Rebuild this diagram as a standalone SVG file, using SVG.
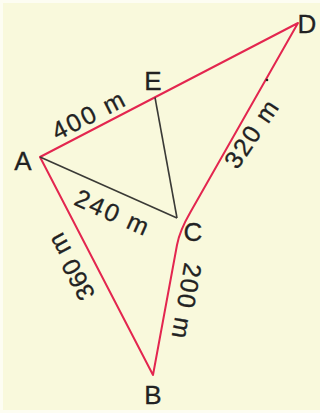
<svg xmlns="http://www.w3.org/2000/svg" width="320" height="413" viewBox="0 0 320 413">
  <style>
    .red{fill:none;stroke:#e3264f;stroke-width:2;stroke-linejoin:round}
    .blk{fill:none;stroke:#3a3a36;stroke-width:1.6}
    .pt{font-family:"Liberation Sans",Arial,sans-serif;font-size:26px;fill:#222;stroke:#222;stroke-width:0.3;text-anchor:middle}
    .len{font-family:"Liberation Sans",Arial,sans-serif;font-size:25px;fill:#222;stroke:#222;stroke-width:0.3;text-anchor:middle}
  </style>
  <rect x="0" y="0" width="320" height="413" fill="#fdfdf2"/>
  <rect x="3" y="3" width="317" height="407" fill="#f9f9dc"/>
  <g id="connectors">
    <path class="red" d="M40 157 L298 23 L190.5 212 Q179.5 231 177 245 L153 375 Z"/>
    <line class="blk" x1="40" y1="157" x2="177" y2="218"/>
    <line class="blk" x1="155" y1="97.5" x2="177" y2="218"/>
    <circle cx="267" cy="80" r="1.3" fill="#222"/>
  </g>
  <g id="A"><text class="pt" x="23" y="170">A</text></g>
  <g id="E"><text class="pt" x="153" y="90">E</text></g>
  <g id="D"><text class="pt" x="307" y="33">D</text></g>
  <g id="C"><text class="pt" x="193" y="241">C</text></g>
  <g id="B"><text class="pt" x="153" y="404">B</text></g>
  <g id="labels">
    <text class="len" transform="translate(88 115) rotate(-27)" x="0" y="9" textLength="78" lengthAdjust="spacing">400 m</text>
    <text class="len" transform="translate(112 212) rotate(24)" x="0" y="9" textLength="78" lengthAdjust="spacing">240 m</text>
    <text class="len" transform="translate(251 134) rotate(-56)" x="0" y="9" textLength="76" lengthAdjust="spacing">320 m</text>
    <text class="len" transform="translate(71 267) rotate(-118)" x="0" y="9" textLength="72" lengthAdjust="spacing">360 m</text>
    <text class="len" transform="translate(187 301) rotate(100)" x="0" y="9" textLength="76" lengthAdjust="spacing">200 m</text>
  </g>
</svg>
